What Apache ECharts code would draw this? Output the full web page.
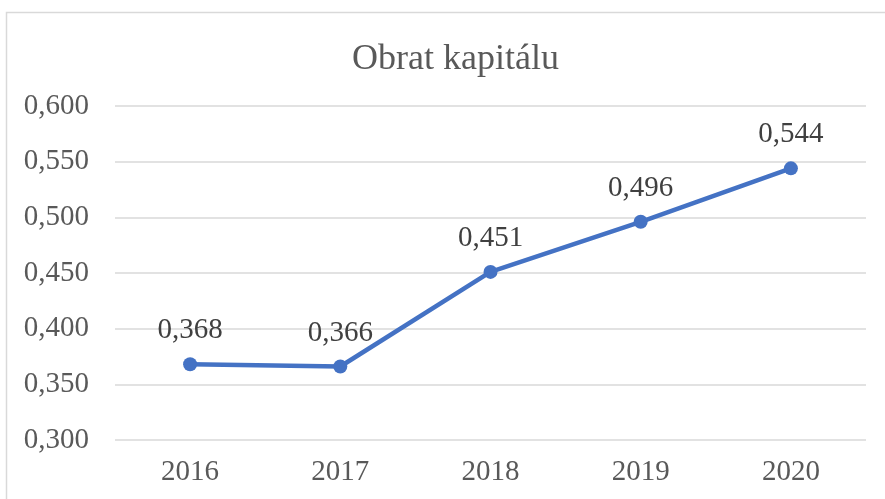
<!DOCTYPE html>
<html><head><meta charset="utf-8">
<script src="https://cdn.jsdelivr.net/npm/echarts@6/dist/echarts.min.js"></script>
<style>html,body{margin:0;padding:0;background:#fff}#c{width:885px;height:499px}</style>
</head><body><div id="c"></div>
<script>
var title = 'Obrat kapitálu';
var categories = ['2016', '2017', '2018', '2019', '2020'];
var values = [0.368, 0.366, 0.451, 0.496, 0.544];
var yMin = 0.30, yMax = 0.60, yStep = 0.05;

var fontFam = '"Liberation Serif", "Times New Roman", serif';
function fmt(v){ return v.toFixed(3).replace('.', ','); }

var chart = echarts.init(document.getElementById('c'), null, {renderer:'canvas'});
chart.setOption({
  animation:false,
  backgroundColor:'#fff',
  graphic:[{type:'rect', shape:{x:6.5,y:12.5,width:900,height:500}, style:{fill:'none', stroke:'#d9d9d9', lineWidth:1.5}, silent:true}],
  title:{text:title, left:347, top:37, textStyle:{fontFamily:fontFam, fontSize:36, fontWeight:'normal', color:'#595959'}},
  grid:{left:115, right:19, top:106, bottom:59, containLabel:false},
  xAxis:{type:'category', data:categories, boundaryGap:true,
    axisLine:{show:false}, axisTick:{show:false},
    axisLabel:{fontFamily:fontFam, fontSize:29, color:'#595959', margin:18}},
  yAxis:{type:'value', min:yMin, max:yMax, interval:yStep,
    axisLine:{show:false}, axisTick:{show:false},
    splitLine:{lineStyle:{color:'#d9d9d9', width:1.5}},
    axisLabel:{fontFamily:fontFam, fontSize:29, color:'#595959', margin:26, formatter:fmt}},
  series:[{type:'line', data:values, symbol:'circle', symbolSize:14,
    lineStyle:{color:'#4472c4', width:4.5}, itemStyle:{color:'#4472c4'},
    label:{show:true, position:'top', distance:12, fontFamily:fontFam, fontSize:29, color:'#404040', formatter:function(p){return fmt(p.value);}}}]
});
</script></body></html>
